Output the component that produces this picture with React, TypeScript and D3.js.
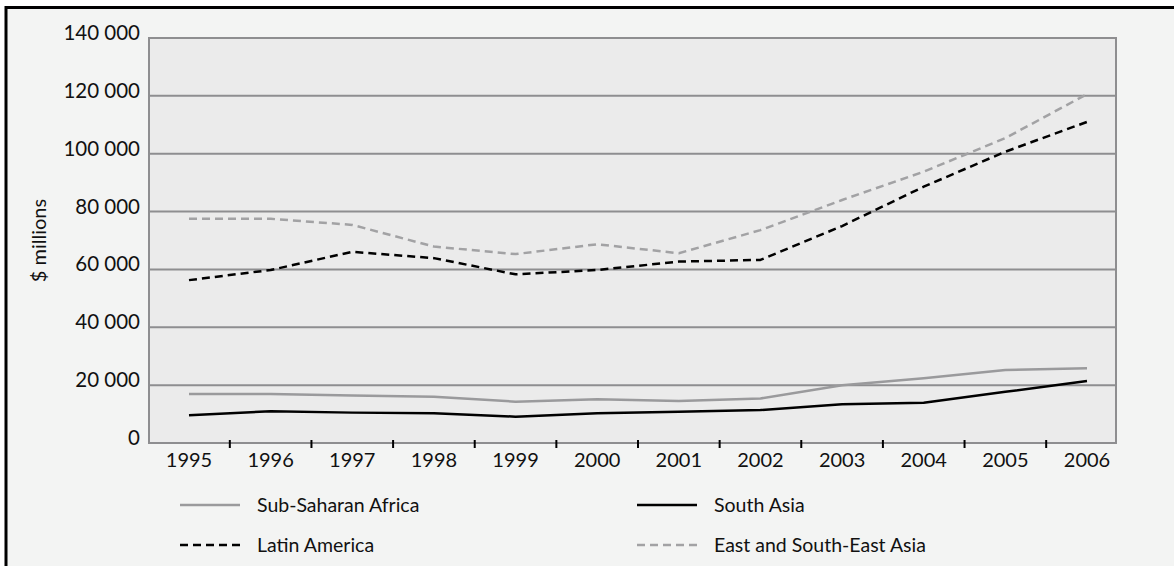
import React from "react";
import * as d3 from "d3";

const years = ["1995","1996","1997","1998","1999","2000","2001","2002","2003","2004","2005","2006"];
const subSaharanAfrica = [16900,16900,16400,16000,14300,15100,14500,15400,20000,22400,25200,25800];
const southAsia = [9600,11000,10500,10300,9100,10300,10800,11400,13400,13900,17700,21400];
const latinAmerica = [56300,59800,66100,63900,58300,59800,62700,63300,75000,88600,100700,111000];
const eastSouthEastAsia = [77500,77500,75400,67900,65300,68700,65600,73600,84000,93800,105400,120600];
const yTicks = [0,20000,40000,60000,80000,100000,120000,140000];
const yTickLabels = ["0","20 000","40 000","60 000","80 000","100 000","120 000","140 000"];

const W = 1174, H = 566;
const plot = { left: 149, right: 1116, top: 38, bottom: 443 };
const FONT = "Lato, 'Open Sans', sans-serif";

const series = [
  { name: "Sub-Saharan Africa", values: subSaharanAfrica, color: "#9a9a9c", dash: null, lx: 180, ly: 505 },
  { name: "South Asia", values: southAsia, color: "#000000", dash: null, lx: 637, ly: 505 },
  { name: "Latin America", values: latinAmerica, color: "#000000", dash: "8 5", lx: 180, ly: 545 },
  { name: "East and South-East Asia", values: eastSouthEastAsia, color: "#a2a2a4", dash: "8 5", lx: 637, ly: 545 },
];

export default function App() {
  const x = d3.scalePoint<string>().domain(years).range([189, 1087]);
  const y = d3.scaleLinear().domain([0, 140000]).range([plot.bottom, plot.top]);
  const line = d3.line<number>()
    .x((_, i) => x(years[i]) as number)
    .y((d) => y(d))
    .curve(d3.curveLinear);
  const step = x.step();
  const tickXs = years.slice(1).map((yr) => (x(yr) as number) - step / 2);

  return (
    <svg width={W} height={H} style={{ position: "absolute", left: 0, top: 0, background: "#fff" }}>
      <rect x={6} y={7.5} width={W + 20} height={H + 20} fill="#f3f4f3" stroke="#000" strokeWidth={3} />
      <rect x={plot.left} y={plot.top} width={plot.right - plot.left} height={plot.bottom - plot.top} fill="#ebebeb" />
      {yTicks.map((t, i) => (
        <g key={t}>
          {i > 0 && (
            <line x1={plot.left} x2={plot.right} y1={y(t)} y2={y(t)} stroke="#8e8e90" strokeWidth={2} />
          )}
          <text x={140} y={y(t) + 2} textAnchor="end" fontFamily={FONT} fontSize={20.5} fill="#111">
            {yTickLabels[i]}
          </text>
        </g>
      ))}
      <rect x={plot.left} y={plot.top} width={plot.right - plot.left} height={plot.bottom - plot.top} fill="none" stroke="#8e8e90" strokeWidth={2} />
      {tickXs.map((tx, i) => (
        <line key={i} x1={tx} x2={tx} y1={plot.bottom - 3} y2={plot.bottom + 5} stroke="#000" strokeWidth={2} />
      ))}
      {years.map((yr) => (
        <text key={yr} x={x(yr)} y={467} textAnchor="middle" fontFamily={FONT} fontSize={20} fill="#111">
          {yr}
        </text>
      ))}
      <text transform={`translate(46,${(plot.top + plot.bottom) / 2}) rotate(-90)`} textAnchor="middle" fontFamily={FONT} fontSize={20} fill="#111">
        $ millions
      </text>
      {series.map((s) => (
        <path key={s.name} d={line(s.values) || ""} fill="none" stroke={s.color} strokeWidth={2.5} strokeDasharray={s.dash || undefined} strokeLinejoin="round" />
      ))}
      {series.map((s) => (
        <g key={"lg" + s.name}>
          <line x1={s.lx} x2={s.lx + 60} y1={s.ly} y2={s.ly} stroke={s.color} strokeWidth={2.5} strokeDasharray={s.dash || undefined} />
          <text x={s.lx + 77} y={s.ly + 7} fontFamily={FONT} fontSize={19.5} fill="#111">{s.name}</text>
        </g>
      ))}
    </svg>
  );
}
